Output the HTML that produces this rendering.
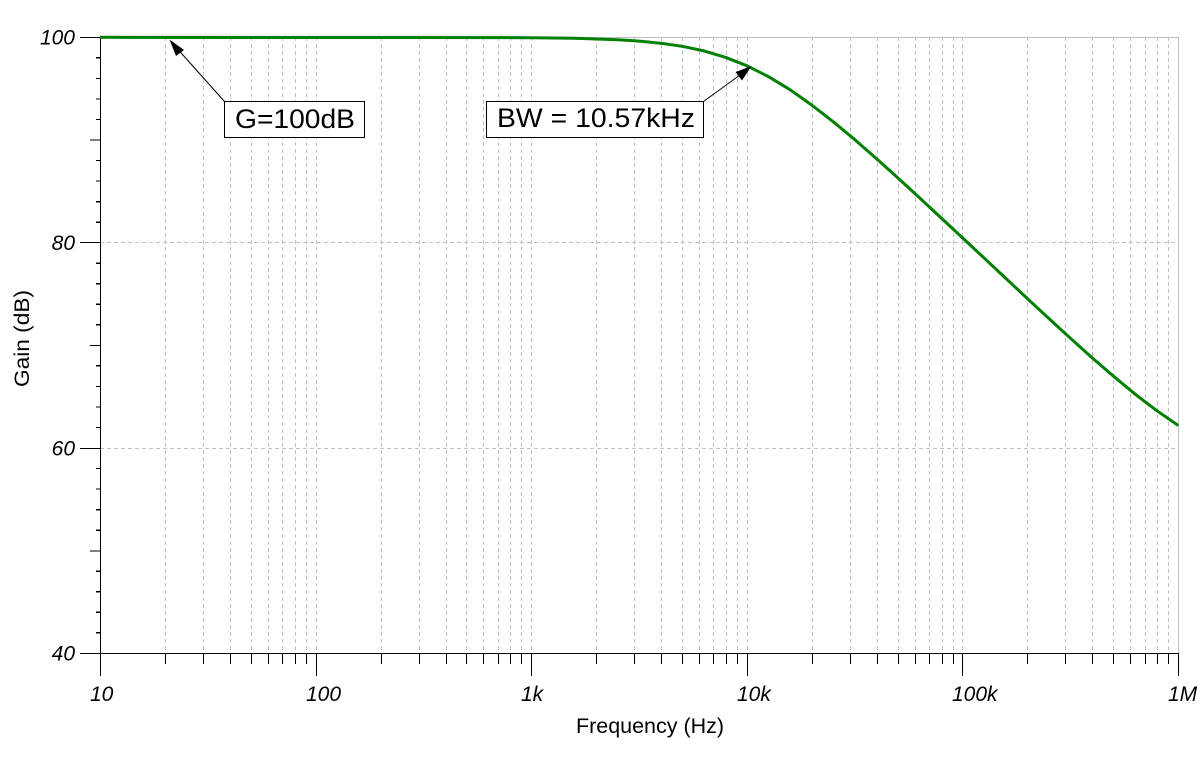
<!DOCTYPE html>
<html><head><meta charset="utf-8"><style>
html,body{margin:0;padding:0;background:#fff;}
svg{display:block;}
text{font-family:"Liberation Sans",Arial,sans-serif;fill:#000;}
.t{font-style:italic;font-size:21px;}
</style></head><body>
<svg width="1203" height="757" viewBox="0 0 1203 757" xmlns="http://www.w3.org/2000/svg">
<rect width="1203" height="757" fill="#fff"/>
<!-- vertical dashed grid -->
<g stroke="#c0c0c0" stroke-width="1" stroke-dasharray="4,3" shape-rendering="crispEdges" fill="none">
<path d="M165.5 37V653M203.5 37V653M230.5 37V653M251.5 37V653M268.5 37V653M282.5 37V653M295.5 37V653M306.5 37V653
M316.5 37V653M381.5 37V653M419.5 37V653M446.5 37V653M466.5 37V653M483.5 37V653M498.5 37V653M510.5 37V653M521.5 37V653
M531.5 37V653M596.5 37V653M634.5 37V653M661.5 37V653M682.5 37V653M699.5 37V653M713.5 37V653M726.5 37V653M737.5 37V653
M747.5 37V653M812.5 37V653M850.5 37V653M877.5 37V653M898.5 37V653M915.5 37V653M929.5 37V653M942.5 37V653M953.5 37V653
M962.5 37V653M1027.5 37V653M1065.5 37V653M1092.5 37V653M1113.5 37V653M1130.5 37V653M1145.5 37V653M1157.5 37V653M1168.5 37V653
M100 242.5H1178M100 448.5H1178"/>
</g>
<!-- top and right border -->
<path d="M100 37.5H1178.5V653" stroke="#c0c0c0" stroke-width="1.2" fill="none" shape-rendering="crispEdges"/>
<!-- axes -->
<g stroke="#000" stroke-width="1.3" fill="none" shape-rendering="crispEdges">
<path d="M100.5 37V676M80 653.5H1178.5"/>
<!-- y ticks -->
<path d="M80 37.5H100M80 242.5H100M80 448.5H100
M90 140H100M90 345.5H100M90 551H100
M96 57.8H100M96 78.4H100M96 98.9H100M96 119.4H100M96 160.5H100M96 181H100M96 201.6H100M96 222.1H100
M96 263.2H100M96 283.7H100M96 304.2H100M96 324.8H100M96 365.8H100M96 386.4H100M96 406.9H100M96 427.4H100
M96 468.5H100M96 489H100M96 509.6H100M96 530.1H100M96 571.2H100M96 591.7H100M96 612.2H100M96 632.8H100"/>
<!-- x ticks -->
<path d="M316.5 653V676M531.5 653V676M747.5 653V676M962.5 653V676M1178.5 653V676
M165.5 653V664M203.5 653V664M230.5 653V664M251.5 653V664M268.5 653V664M282.5 653V664M295.5 653V664M306.5 653V664
M381.5 653V664M419.5 653V664M446.5 653V664M466.5 653V664M483.5 653V664M498.5 653V664M510.5 653V664M521.5 653V664
M596.5 653V664M634.5 653V664M661.5 653V664M682.5 653V664M699.5 653V664M713.5 653V664M726.5 653V664M737.5 653V664
M812.5 653V664M850.5 653V664M877.5 653V664M898.5 653V664M915.5 653V664M929.5 653V664M942.5 653V664M953.5 653V664
M1027.5 653V664M1065.5 653V664M1092.5 653V664M1113.5 653V664M1130.5 653V664M1145.5 653V664M1157.5 653V664M1168.5 653V664"/>
</g>
<!-- y labels -->
<g class="t" text-anchor="end">
<text x="75" y="44.5">100</text>
<text x="75" y="250">80</text>
<text x="75" y="455.5">60</text>
<text x="75" y="660.5">40</text>
</g>
<!-- x labels -->
<g class="t">
<text x="90" y="701">10</text>
<text x="306" y="701">100</text>
<text x="521" y="701">1k</text>
<text x="737" y="701">10k</text>
<text x="952" y="701">100k</text>
<text x="1168" y="701">1M</text>
</g>
<!-- axis titles -->
<text x="650" y="733" font-size="21" text-anchor="middle" textLength="148" lengthAdjust="spacingAndGlyphs">Frequency (Hz)</text>
<text transform="translate(29,338.5) rotate(-90)" font-size="21" text-anchor="middle" textLength="97" lengthAdjust="spacingAndGlyphs">Gain (dB)</text>
<!-- curve -->
<polyline fill="none" stroke="#008000" stroke-width="3" stroke-linejoin="round"
points="100,37.3 531.3,37.7 574.5,38.3 617.6,39.75 639.2,41.1 660.7,43.2 682.3,46.3 703.9,50.9 725.4,57.3 747,65.8 768.6,76.7 790.2,89.8 811.7,105 833.3,121.8 854.9,139.7 876.4,158.6 898,178 919.6,197.9 941.1,217.9 962.7,238 984.3,258.2 1005.8,278.4 1027.4,298.6 1049,318.6 1070.5,338.3 1092.1,357.7 1113.7,376.4 1135.2,394.2 1156.8,410.7 1178.3,425.5"/>
<!-- annotations -->
<g stroke="#000" stroke-width="1" fill="none">
<path d="M224.5 101.5L178 49.5"/>
<path d="M703.5 101.5L740 75"/>
</g>
<polygon points="169.5,39.5 184,50 176,56" fill="#000"/>
<polygon points="751.5,66 742,80.5 735.5,72" fill="#000"/>
<rect x="224.5" y="101.5" width="140" height="36" fill="#fff" stroke="#000" stroke-width="1"/>
<text x="235" y="128" font-size="27" textLength="120" lengthAdjust="spacingAndGlyphs">G=100dB</text>
<rect x="486.5" y="101.5" width="217" height="36" fill="#fff" stroke="#000" stroke-width="1"/>
<text x="497" y="127" font-size="27" textLength="198" lengthAdjust="spacingAndGlyphs">BW = 10.57kHz</text>
</svg>
</body></html>
